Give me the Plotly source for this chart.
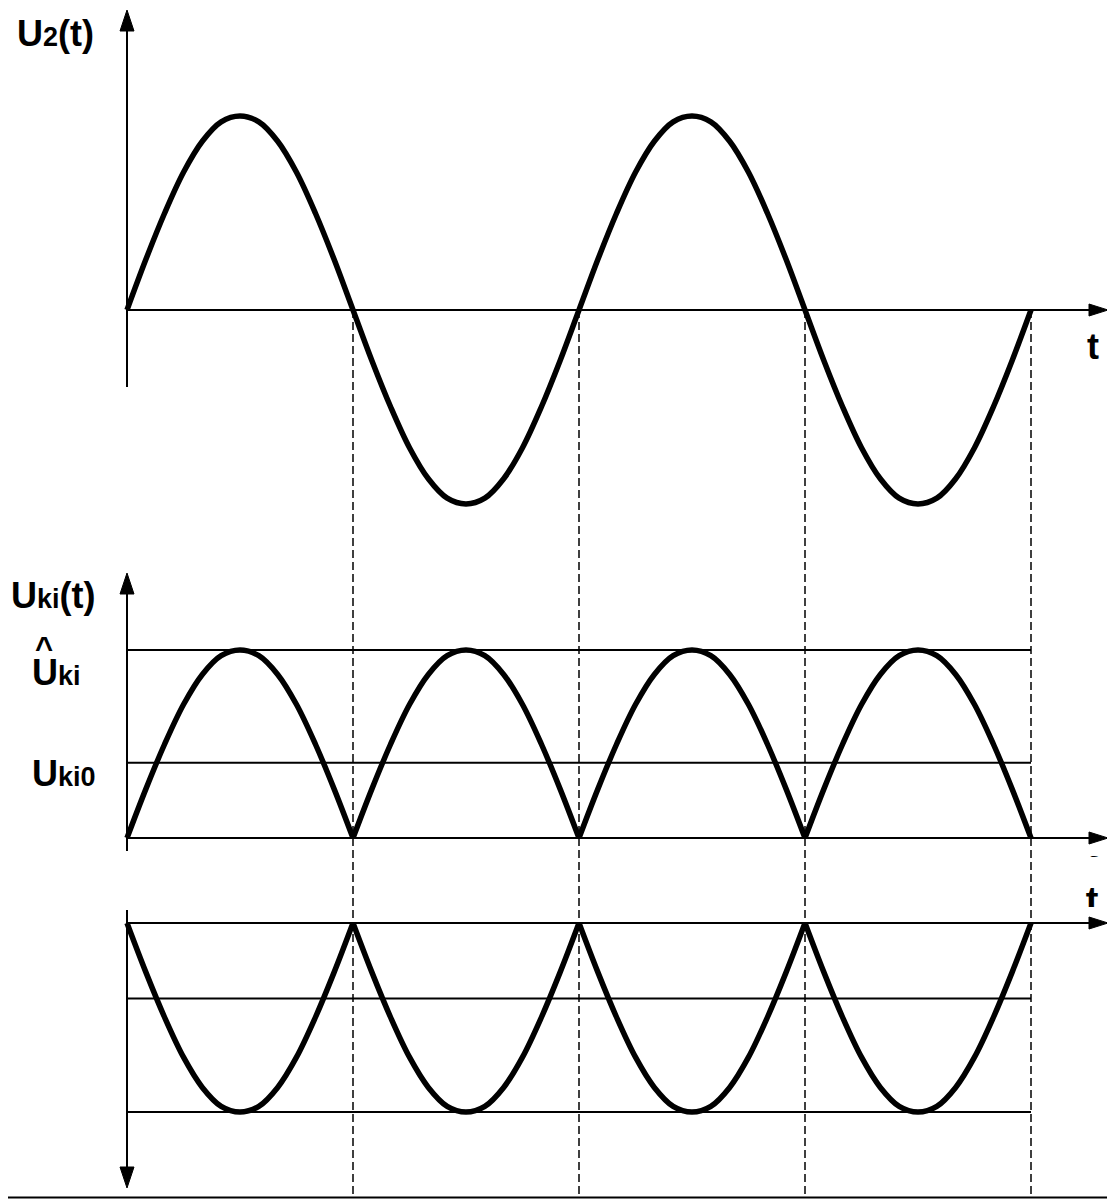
import plotly.graph_objects as go

# ---------------- data ----------------
# time in half-periods; zero crossings at 0,1,2,3,4
HALF_PERIODS = [0, 1, 2, 3, 4]
ZERO_CROSSINGS = [1, 2, 3, 4]
# one half-period arch, sampled every 1/12 of a half period
ARCH_PHASE = [0, 1/12, 2/12, 3/12, 4/12, 5/12, 6/12, 7/12, 8/12, 9/12, 10/12, 11/12, 1]
ARCH_VALUE = [0, 0.26, 0.50, 0.71, 0.87, 0.97, 1.0, 0.97, 0.87, 0.71, 0.50, 0.26, 0]
U2_SIGNS = [1, -1, 1, -1]         # transformer voltage
UKI_SIGNS = [1, 1, 1, 1]          # rectified voltage
UKI_LOW_SIGNS = [-1, -1, -1, -1]  # mirrored rectified voltage
UKI_PEAK = 1.0
UKI0_LEVEL = 0.40

# ---------------- layout constants (page pixels) ----------------
PAGE_W, PAGE_H = 1115, 1200
OFF = 8                     # default body margin of the html page
FW, FH = PAGE_W - OFF, PAGE_H - OFF
X0_PX, HALF_PX = 127, 226
TOP_ZERO_PX, TOP_UNIT = 310, 194
MID_ZERO_PX, MID_UNIT = 838, 188
BOT_ZERO_PX, BOT_UNIT = 923, 189


def tx(px):
    return (px - X0_PX) / HALF_PX


def ytop(px):
    return (TOP_ZERO_PX - px) / TOP_UNIT


def ymid(px):
    return (MID_ZERO_PX - px) / MID_UNIT


def ybot(px):
    return (BOT_ZERO_PX - px) / BOT_UNIT


def px_paper_x(px):
    return (px - OFF) / FW


def px_paper_y(py):
    return 1 - (py - OFF) / FH


def build(signs, gaps):
    xs, ys = [], []
    for k, s in enumerate(signs):
        for i, (p, v) in enumerate(zip(ARCH_PHASE, ARCH_VALUE)):
            if not gaps and k > 0 and i == 0:
                continue
            xs.append(HALF_PERIODS[k] + p)
            ys.append(s * v)
        if gaps:
            xs.append(None)
            ys.append(None)
    return xs, ys


fig = go.Figure()
CURVE = dict(color="black", width=5.5, shape="spline", smoothing=1.0)

x, y = build(U2_SIGNS, False)
fig.add_trace(go.Scatter(x=x, y=y, mode="lines", line=CURVE, yaxis="y", hoverinfo="skip"))
x, y = build(UKI_SIGNS, True)
fig.add_trace(go.Scatter(x=x, y=y, mode="lines", line=CURVE, yaxis="y2", hoverinfo="skip"))
x, y = build(UKI_LOW_SIGNS, True)
fig.add_trace(go.Scatter(x=x, y=y, mode="lines", line=CURVE, yaxis="y3", hoverinfo="skip"))

FONT_FAMILY = "Liberation Sans, Arial, sans-serif"

# partially hidden "t" fragments between the lower two panels (clipped text)
for name, (ya, y0p, y1p, cy) in {"x2": ("y4", 856, 866, 847), "x3": ("y5", 886, 907, 904)}.items():
    fig.add_trace(go.Scatter(x=[1092], y=[cy], mode="text", text=["<b>t</b>"],
                             textposition="middle center", cliponaxis=True,
                             textfont=dict(family=FONT_FAMILY, size=38, color="black"),
                             xaxis=name, yaxis=ya, hoverinfo="skip"))

shapes = []
AX = dict(color="black", width=2)
t_end = HALF_PERIODS[-1]
t_arrow = tx(1108)

# dashed vertical guides
for z in ZERO_CROSSINGS:
    shapes.append(dict(type="line", xref="x", yref="y", x0=z, x1=z, y0=0, y1=ytop(1196),
                       line=dict(color="black", width=1.5, dash="8px,4px"), layer="below"))

# top panel axes
shapes.append(dict(type="line", xref="x", yref="y", x0=0, x1=0, y0=ytop(387), y1=ytop(25), line=AX))
shapes.append(dict(type="line", xref="x", yref="y", x0=0, x1=t_arrow - 0.03, y0=0, y1=0, line=AX))
# middle panel
shapes.append(dict(type="line", xref="x", yref="y2", x0=0, x1=0, y0=ymid(851), y1=ymid(588), line=AX))
shapes.append(dict(type="line", xref="x", yref="y2", x0=0, x1=t_arrow - 0.03, y0=0, y1=0, line=AX))
for lvl in (UKI_PEAK, UKI0_LEVEL):
    shapes.append(dict(type="line", xref="x", yref="y2", x0=0, x1=t_end, y0=lvl, y1=lvl, line=AX))
# bottom panel
shapes.append(dict(type="line", xref="x", yref="y3", x0=0, x1=0, y0=ybot(910), y1=ybot(1178), line=AX))
shapes.append(dict(type="line", xref="x", yref="y3", x0=0, x1=t_arrow - 0.03, y0=0, y1=0, line=AX))
for lvl in (-UKI_PEAK, -UKI0_LEVEL):
    shapes.append(dict(type="line", xref="x", yref="y3", x0=0, x1=t_end, y0=lvl, y1=lvl, line=AX))


def arrow(yref, xa, ya, path):
    return dict(type="path", xref="x", yref=yref, xsizemode="pixel", ysizemode="pixel",
                xanchor=xa, yanchor=ya, path=path, fillcolor="black",
                line=dict(color="black", width=1))


UP = "M0,0 L-7,-21 L7,-21 Z"
DOWN = "M0,0 L-7,21 L7,21 Z"
RIGHT = "M0,0 L-19,6 L-19,-6 Z"
shapes.append(arrow("y", 0, ytop(10), UP))
shapes.append(arrow("y", t_arrow, 0, RIGHT))
shapes.append(arrow("y2", 0, ymid(573), UP))
shapes.append(arrow("y2", t_arrow, 0, RIGHT))
shapes.append(arrow("y3", 0, ybot(1188), DOWN))
shapes.append(arrow("y3", t_arrow, 0, RIGHT))

# image frame (right and bottom edges)
shapes.append(dict(type="line", xref="x", yref="paper", x0=tx(1111.5), x1=tx(1111.5),
                   y0=0, y1=1, line=dict(color="black", width=2.5)))
shapes.append(dict(type="line", xref="paper", yref="paper", x0=0, x1=1,
                   y0=px_paper_y(1197.5), y1=px_paper_y(1197.5), line=dict(color="black", width=2)))

SUB = '<span style="font-size:27px">{}</span>'


def label(text, xpx, ypx, size=36, anchor="left"):
    return dict(text=text, xref="paper", yref="paper", x=px_paper_x(xpx), y=px_paper_y(ypx),
                xanchor=anchor, yanchor="middle", showarrow=False,
                font=dict(family=FONT_FAMILY, size=size, color="black"))


annotations = [
    label("<b>U" + SUB.format("2") + "(t)</b>", 15, 34),
    label("<b>U" + SUB.format("ki") + "(t)</b>", 9, 595),
    label("<b>^</b>", 44, 648, size=31, anchor="center"),
    label("<b>U" + SUB.format("ki") + "</b>", 30, 672),
    label("<b>U" + SUB.format("ki0") + "</b>", 30, 773),
    label("<b>t</b>", 1093, 347, anchor="center"),
]

hidden = dict(visible=False, showgrid=False, zeroline=False, fixedrange=True)


def small_axes(x0, x1, y0, y1):
    xa = dict(hidden, domain=[px_paper_x(x0), px_paper_x(x1)], range=[x0, x1])
    ya = dict(hidden, domain=[px_paper_y(y1), px_paper_y(y0)], range=[y1, y0])
    return xa, ya


xa2, ya4 = small_axes(1080, 1106, 856, 866)
xa3, ya5 = small_axes(1080, 1106, 886, 907)

fig.update_layout(
    width=FW, height=FH, margin=dict(l=0, r=0, t=0, b=0),
    paper_bgcolor="white", plot_bgcolor="rgba(0,0,0,0)", showlegend=False,
    xaxis=dict(hidden, range=[tx(OFF), tx(PAGE_W)], domain=[0, 1]),
    yaxis=dict(hidden, range=[ytop(PAGE_H), ytop(OFF)], domain=[0, 1]),
    yaxis2=dict(hidden, range=[ymid(PAGE_H), ymid(OFF)], domain=[0, 1], overlaying="y"),
    yaxis3=dict(hidden, range=[ybot(PAGE_H), ybot(OFF)], domain=[0, 1], overlaying="y"),
    xaxis2=dict(xa2, anchor="y4"), yaxis4=dict(ya4, anchor="x2"),
    xaxis3=dict(xa3, anchor="y5"), yaxis5=dict(ya5, anchor="x3"),
    shapes=shapes, annotations=annotations,
)

fig.write_html("out.html")
